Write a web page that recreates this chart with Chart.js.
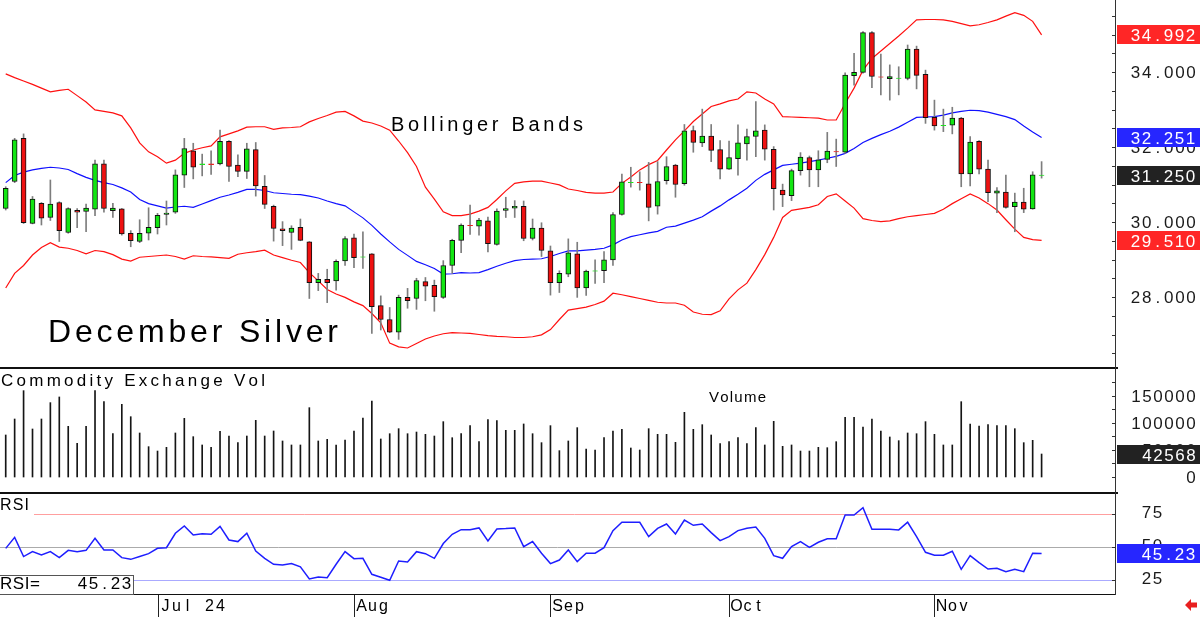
<!DOCTYPE html>
<html>
<head>
<meta charset="utf-8">
<title>December Silver</title>
<script src="https://cdn.jsdelivr.net/npm/chart.js@4.4.1/dist/chart.umd.min.js"></script>
<style>
  html, body { margin: 0; padding: 0; background: #fff; }
  #wrap { position: relative; width: 1200px; height: 617px; }
</style>
</head>
<body>
<div id="wrap"><canvas id="chart" width="1200" height="617"></canvas></div>
<script>
// Daily candles, one per trading day (index 0 = early June, 116 = Nov 19)
const opens = [30.36, 31.08, 32.23, 29.96, 30.50, 30.12, 30.52, 29.72, 30.31, 30.28,
  30.34, 31.55, 30.30, 30.35, 29.70, 29.48, 29.70, 29.85, 30.20, 30.26,
  31.25, 31.90, 31.53, 31.55, 31.55, 32.15, 31.52, 31.35, 31.93, 30.95,
  30.42, 29.82, 29.72, 29.86, 29.47, 28.38, 28.47, 28.43, 28.96, 29.58,
  29.06, 29.15, 27.77, 27.40, 27.06, 27.99, 27.96, 28.41, 28.31, 27.99,
  28.84, 29.51, 29.91, 29.89, 30.03, 29.40, 30.31, 30.37, 30.42, 29.56,
  29.84, 29.23, 28.38, 28.61, 29.15, 28.24, 28.69, 28.70, 28.99, 30.20,
  31.05, 31.06, 31.02, 30.42, 31.10, 31.52, 31.02, 32.44, 32.11, 32.29,
  31.93, 31.41, 31.69, 32.08, 32.28, 32.45, 31.94, 30.85, 30.70, 31.37,
  31.72, 31.39, 31.67, 31.88, 31.86, 33.90, 33.99, 35.05, 33.87, 33.82,
  33.83, 33.83, 34.61, 33.94, 32.79, 32.57, 32.58, 32.77, 31.28, 32.15,
  31.41, 30.77, 30.80, 30.41, 30.53, 30.35, 31.24];
const highs = [30.94, 32.23, 32.35, 30.68, 30.52, 31.12, 30.54, 30.38, 30.36, 30.48,
  31.65, 31.65, 30.50, 30.36, 29.77, 30.06, 30.38, 30.23, 30.56, 31.39,
  32.23, 32.10, 31.81, 31.90, 32.45, 32.17, 31.79, 32.10, 32.12, 31.24,
  30.45, 30.01, 29.90, 30.08, 29.48, 28.63, 28.74, 28.99, 29.61, 29.68,
  29.74, 29.16, 28.03, 27.72, 28.05, 28.23, 28.50, 28.52, 28.45, 28.97,
  29.54, 29.95, 30.45, 30.10, 30.13, 30.35, 30.66, 30.57, 30.56, 30.08,
  29.98, 29.36, 28.70, 29.55, 29.46, 28.72, 28.99, 29.21, 30.25, 31.28,
  31.46, 31.34, 31.59, 31.61, 31.74, 31.54, 32.60, 32.56, 33.01, 32.60,
  32.17, 32.16, 32.59, 32.48, 33.21, 32.59, 32.01, 31.01, 31.41, 31.85,
  31.76, 31.90, 32.39, 32.21, 33.98, 34.50, 35.08, 35.08, 34.48, 34.19,
  34.14, 34.72, 34.69, 34.05, 33.25, 33.01, 33.06, 32.79, 32.28, 32.17,
  31.65, 30.92, 31.25, 30.77, 30.90, 31.34, 31.61];
const lows = [30.32, 31.05, 29.96, 29.95, 29.92, 30.04, 29.48, 29.70, 29.85, 29.74,
  30.17, 30.26, 30.12, 29.65, 29.34, 29.45, 29.52, 29.68, 29.92, 30.23,
  30.92, 31.15, 31.23, 31.27, 31.52, 31.08, 31.21, 31.16, 30.69, 30.36,
  29.49, 29.37, 29.27, 29.50, 27.96, 28.17, 27.85, 28.18, 28.84, 28.78,
  28.76, 27.03, 27.12, 27.05, 26.87, 27.70, 27.67, 27.90, 27.62, 27.96,
  28.63, 29.18, 29.67, 29.65, 29.20, 29.38, 30.12, 30.12, 29.50, 29.52,
  29.08, 28.05, 28.12, 28.54, 27.99, 28.04, 28.36, 28.38, 28.84, 30.18,
  30.93, 30.85, 30.03, 30.21, 31.01, 30.66, 30.98, 31.86, 32.01, 31.61,
  31.15, 31.40, 31.25, 31.65, 31.74, 31.65, 30.32, 30.41, 30.57, 31.25,
  30.94, 30.94, 31.58, 31.48, 31.83, 33.65, 33.97, 33.58, 33.39, 33.25,
  33.39, 33.79, 33.55, 32.63, 32.45, 32.41, 32.35, 30.94, 30.96, 31.28,
  30.54, 30.25, 30.37, 29.74, 30.25, 30.34, 31.17];
const closes = [30.90, 32.19, 29.98, 30.61, 30.10, 30.48, 29.77, 30.36, 30.26, 30.37,
  31.55, 30.36, 30.37, 29.68, 29.50, 29.70, 29.86, 30.18, 30.24, 31.26,
  31.96, 31.46, 31.55, 31.53, 32.15, 31.48, 31.35, 31.95, 30.96, 30.47,
  29.83, 29.77, 29.84, 29.51, 28.38, 28.47, 28.38, 28.95, 29.56, 29.05,
  29.07, 27.74, 27.40, 27.06, 27.99, 27.90, 28.44, 28.29, 28.01, 28.84,
  29.51, 29.92, 29.90, 30.05, 29.42, 30.29, 30.36, 30.42, 29.56, 29.84,
  29.24, 28.38, 28.63, 29.18, 28.24, 28.69, 28.70, 28.99, 30.20, 31.07,
  31.06, 31.05, 30.39, 31.08, 31.48, 31.00, 32.43, 32.12, 32.29, 31.91,
  31.41, 31.72, 32.11, 32.28, 32.43, 31.94, 30.89, 30.72, 31.37, 31.73,
  31.39, 31.66, 31.89, 31.87, 33.92, 33.99, 35.05, 33.88, 33.86, 33.88,
  33.84, 34.61, 33.91, 32.78, 32.56, 32.58, 32.77, 31.28, 32.13, 31.41,
  30.78, 30.83, 30.39, 30.53, 30.34, 31.26, 31.250];

// Bollinger Bands
const upperBand = [33.95, 33.85, 33.76, 33.67, 33.57, 33.47, 33.51, 33.54, 33.37, 33.20,
  32.99, 32.95, 32.91, 32.83, 32.51, 32.11, 31.87, 31.74, 31.57, 31.65,
  31.83, 31.92, 31.98, 32.03, 32.27, 32.35, 32.43, 32.53, 32.54, 32.54,
  32.47, 32.51, 32.52, 32.54, 32.67, 32.76, 32.84, 32.93, 32.95, 32.83,
  32.69, 32.64, 32.56, 32.45, 32.16, 31.85, 31.48, 30.93, 30.61, 30.27,
  30.17, 30.17, 30.21, 30.29, 30.39, 30.60, 30.83, 31.03, 31.07, 31.09,
  31.09, 31.04, 30.99, 30.88, 30.84, 30.79, 30.77, 30.77, 30.80, 31.03,
  31.20, 31.39, 31.53, 31.64, 31.92, 32.19, 32.43, 32.68, 32.88, 33.08,
  33.15, 33.23, 33.28, 33.47, 33.44, 33.28, 33.15, 32.81, 32.80, 32.79,
  32.78, 32.77, 32.72, 32.72, 33.16, 33.57, 34.05, 34.36, 34.56, 34.76,
  34.96, 35.17, 35.39, 35.40, 35.40, 35.39, 35.35, 35.29, 35.23, 35.26,
  35.32, 35.39, 35.49, 35.58, 35.51, 35.35, 34.992];
const middleBand = [31.05, 31.24, 31.33, 31.39, 31.43, 31.46, 31.44, 31.40, 31.29, 31.19,
  31.11, 31.05, 31.00, 30.91, 30.80, 30.60, 30.49, 30.43, 30.37, 30.40,
  30.42, 30.39, 30.48, 30.57, 30.66, 30.72, 30.79, 30.87, 30.87, 30.84,
  30.78, 30.76, 30.74, 30.73, 30.69, 30.64, 30.56, 30.49, 30.43, 30.27,
  30.11, 29.91, 29.68, 29.47, 29.27, 29.11, 28.95, 28.86, 28.76, 28.61,
  28.62, 28.65, 28.64, 28.65, 28.73, 28.82, 28.90, 28.97, 29.00, 29.01,
  29.02, 29.08, 29.16, 29.23, 29.23, 29.25, 29.27, 29.30, 29.39, 29.52,
  29.61, 29.66, 29.71, 29.75, 29.86, 29.89, 29.97, 30.05, 30.14, 30.29,
  30.43, 30.59, 30.74, 30.90, 31.11, 31.27, 31.39, 31.51, 31.54, 31.57,
  31.61, 31.65, 31.70, 31.75, 31.83, 31.96, 32.12, 32.23, 32.33, 32.42,
  32.53, 32.66, 32.79, 32.80, 32.81, 32.85, 32.91, 32.95, 32.98, 32.97,
  32.93, 32.87, 32.81, 32.73, 32.56, 32.40, 32.251];
const lowerBand = [28.24, 28.63, 28.84, 29.12, 29.32, 29.45, 29.33, 29.30, 29.24, 29.15,
  29.24, 29.21, 29.13, 29.01, 28.96, 29.06, 29.08, 29.10, 29.12, 29.08,
  29.01, 29.10, 29.08, 29.07, 29.05, 29.03, 29.14, 29.18, 29.21, 29.25,
  29.12, 29.05, 28.98, 28.92, 28.65, 28.43, 28.20, 28.08, 27.99, 27.87,
  27.77, 27.56, 27.31, 26.77, 26.67, 26.64, 26.76, 26.88, 26.96, 27.02,
  27.05, 27.04, 27.03, 27.00, 26.97, 26.95, 26.94, 26.92, 26.92, 26.94,
  26.99, 27.13, 27.40, 27.65, 27.69, 27.73, 27.80, 27.89, 28.10, 28.06,
  28.01, 27.96, 27.91, 27.86, 27.84, 27.84, 27.78, 27.60, 27.54, 27.53,
  27.63, 27.95, 28.19, 28.37, 28.73, 29.13, 29.59, 30.12, 30.31, 30.35,
  30.39, 30.46, 30.68, 30.75, 30.56, 30.37, 30.09, 30.04, 30.01, 30.03,
  30.09, 30.14, 30.17, 30.20, 30.23, 30.34, 30.49, 30.62, 30.75, 30.64,
  30.49, 30.32, 30.06, 29.81, 29.59, 29.53, 29.510];

const volumes = [77800, 107400, 159900, 88900, 107400, 137700, 148200, 93800, 62300, 93800,
  159900, 139500, 80200, 134600, 111700, 81500, 56200, 48100, 54900, 81500,
  108600, 74700, 59300, 54900, 84600, 75900, 63600, 75900, 104900, 75900,
  85200, 66700, 59300, 59300, 128400, 66700, 69800, 59300, 68500, 85200,
  109300, 140700, 70400, 80200, 89500, 80200, 83300, 79000, 75900, 102500,
  72800, 80200, 95100, 65400, 106200, 104300, 86400, 86400, 98200, 80200,
  63600, 95100, 48800, 66700, 91400, 51900, 50000, 72800, 85200, 88300,
  53700, 50000, 89500, 79000, 79000, 64200, 119800, 88300, 96900, 77800,
  61700, 65400, 72800, 61700, 91400, 59300, 103100, 56800, 59300, 48100,
  48100, 54900, 54300, 65400, 110500, 110500, 92600, 107400, 85200, 74100,
  67300, 81500, 80200, 102500, 79000, 59300, 59300, 139500, 98200, 94400,
  96900, 95100, 95100, 89500, 63600, 67900, 42568];

const rsi = [49.2, 57.5, 43.0, 46.7, 44.2, 46.7, 42.2, 47.7, 46.7, 47.7,
  56.8, 48.0, 48.0, 42.2, 40.9, 43.0, 45.2, 49.2, 49.7, 60.6,
  66.1, 59.3, 60.3, 59.8, 65.8, 55.5, 54.3, 60.6, 47.2, 41.7,
  37.2, 36.7, 37.7, 35.2, 26.1, 27.6, 27.1, 37.2, 46.7, 41.4,
  41.7, 29.6, 27.4, 25.1, 39.7, 38.9, 46.7, 45.2, 41.7, 52.8,
  59.8, 63.3, 63.3, 64.6, 54.8, 63.8, 64.1, 64.6, 50.5, 54.3,
  45.5, 37.7, 40.4, 48.0, 39.2, 45.5, 45.5, 49.7, 62.6, 68.9,
  68.9, 68.9, 58.1, 64.3, 67.6, 60.1, 70.6, 66.6, 67.6, 61.1,
  55.0, 58.1, 62.6, 64.3, 65.3, 56.8, 43.7, 41.7, 50.5, 54.3,
  50.0, 53.8, 56.5, 56.5, 74.4, 74.4, 79.9, 63.6, 63.6, 63.6,
  63.1, 68.9, 58.1, 46.2, 44.0, 44.0, 47.0, 33.4, 43.7, 38.4,
  33.6, 34.2, 31.6, 33.4, 31.6, 45.5, 45.23];

// first trading day of each month (candle index) and its label
const monthStarts = [17, 39, 61, 81, 104];
const monthLabels = ['Jul 24', 'Aug', 'Sep', 'Oct', 'Nov'];
const priceTicks = [28, 30, 32, 34];
const volumeTicks = [0, 50000, 100000, 150000];
const rsiTicks = [25, 50, 75];
const rsiLevels = [75, 50, 25];

const FONT = '"Liberation Sans", Arial, sans-serif';
const GREEN = '#12e612';
const RED = '#ee1111';

const idx = opens.map((_, i) => i);
const pts = arr => arr.map((v, i) => ({ x: i, y: v }));

// text spread to a given width (letters keep their own widths)
function spaced(ctx, text, x, y, width) {
  const chars = [...text];
  const w = chars.map(c => ctx.measureText(c).width);
  const gap = (width - w.reduce((a, b) => a + b, 0)) / (chars.length - 1);
  ctx.textAlign = 'left';
  let cx = x;
  chars.forEach((c, i) => { ctx.fillText(c, cx, y); cx += w[i] + gap; });
}

// fixed pitch text, each glyph centered in its cell
function mono(ctx, text, x, y, pitch) {
  ctx.textAlign = 'center';
  [...text].forEach((c, i) => ctx.fillText(c, x + pitch * (i + 0.5), y));
  ctx.textAlign = 'left';
}

function tag(ctx, y, bg, text, x0) {
  ctx.fillStyle = bg;
  ctx.fillRect(1117, Math.round(y - 9.5), 83, 19);
  ctx.fillStyle = '#fff';
  ctx.font = '17px ' + FONT;
  mono(ctx, text, x0, Math.round(y - 9.5) + 16, 11);
}

const overlay = {
  id: 'overlay',
  beforeDatasetsDraw(chart) {
    const { ctx } = chart;
    const yr = chart.scales.yr;
    const guides = [['#ff9f9f', 34], ['#ababab', 0], ['#aaaaff', 133]];
    ctx.save();
    ctx.lineWidth = 1;
    rsiLevels.forEach((lvl, k) => {
      const y = Math.round(yr.getPixelForValue(lvl)) + 0.5;
      ctx.strokeStyle = guides[k][0];
      ctx.beginPath();
      ctx.moveTo(guides[k][1], y);
      ctx.lineTo(1115, y);
      ctx.stroke();
    });
    ctx.restore();
  },
  afterDatasetsDraw(chart) {
    const { ctx } = chart;
    const { x, yp, yv, yr } = chart.scales;
    const last = closes.length - 1;
    ctx.save();

    // panel borders and right axis line
    ctx.fillStyle = '#111';
    ctx.fillRect(0, 367, 1118, 2);
    ctx.fillRect(0, 492, 1118, 2);
    ctx.fillRect(0, 594, 1116, 1);
    ctx.fillStyle = '#333';
    ctx.fillRect(1115, 0, 1, 595);

    // axis tick marks
    for (let v = 26.5; v <= 35.5; v += 0.5) ctx.fillRect(1112, Math.round(yp.getPixelForValue(v)), 3, 1);
    for (let v = 0; v <= 175000; v += 25000) ctx.fillRect(1112, Math.round(yv.getPixelForValue(v)), 3, 1);
    rsiTicks.forEach(v => ctx.fillRect(1112, Math.round(yr.getPixelForValue(v)), 3, 1));

    // axis labels
    ctx.fillStyle = '#1a1a1a';
    ctx.font = '17px ' + FONT;
    priceTicks.forEach(v => mono(ctx, v.toFixed(3), 1130, yp.getPixelForValue(v) + 6, 11.1));
    volumeTicks.forEach(v => {
      const s = String(v);
      mono(ctx, s, 1196.5 - s.length * 11, yv.getPixelForValue(v) + 6, 11);
    });
    rsiTicks.forEach(v => mono(ctx, String(v), 1141, yr.getPixelForValue(v) + 4, 11));

    // last value tags
    tag(ctx, yp.getPixelForValue(upperBand[last]), '#ff2626', upperBand[last].toFixed(3), 1130);
    tag(ctx, yp.getPixelForValue(middleBand[last]), '#2626ff', middleBand[last].toFixed(3), 1130);
    tag(ctx, yp.getPixelForValue(closes[last]), '#222', closes[last].toFixed(3), 1130);
    tag(ctx, yp.getPixelForValue(lowerBand[last]), '#ff2626', lowerBand[last].toFixed(3), 1130);
    const vs = String(volumes[last]);
    tag(ctx, yv.getPixelForValue(volumes[last]), '#222', vs, 1196.5 - vs.length * 11);
    tag(ctx, yr.getPixelForValue(rsi[last]), '#2626ff', rsi[last].toFixed(2), 1141);

    // titles
    ctx.fillStyle = '#000';
    ctx.font = '32px ' + FONT;
    spaced(ctx, 'December Silver', 48, 342, 290);
    ctx.font = '20px ' + FONT;
    spaced(ctx, 'Bollinger Bands', 391, 131, 192);
    ctx.font = '17px ' + FONT;
    spaced(ctx, 'Commodity Exchange Vol', 1, 386, 264);
    ctx.font = '15px ' + FONT;
    spaced(ctx, 'Volume', 709, 402, 57);
    ctx.font = '16px ' + FONT;
    spaced(ctx, 'RSI', 0, 510, 29);

    // RSI readout box
    ctx.fillStyle = '#fff';
    ctx.fillRect(0, 576, 133, 18);
    ctx.strokeStyle = '#555';
    ctx.lineWidth = 1;
    ctx.strokeRect(-1, 575.5, 134.5, 19);
    ctx.fillStyle = '#000';
    ctx.font = '17px ' + FONT;
    spaced(ctx, 'RSI=', 0, 589, 40);
    mono(ctx, rsi[last].toFixed(2), 77, 589, 11);

    // month axis
    ctx.font = '16px ' + FONT;
    monthStarts.forEach((m, k) => {
      const px = Math.round(x.getPixelForValue(m));
      ctx.fillStyle = '#222';
      ctx.fillRect(px, 595, 1, 22);
      ctx.fillStyle = '#000';
      mono(ctx, monthLabels[k], px + 2, 611, 11);
    });

    // scroll arrow
    ctx.fillStyle = '#e82020';
    ctx.beginPath();
    ctx.moveTo(1185, 605);
    ctx.lineTo(1191, 599);
    ctx.lineTo(1191, 602.5);
    ctx.lineTo(1197, 602.5);
    ctx.lineTo(1197, 607.5);
    ctx.lineTo(1191, 607.5);
    ctx.lineTo(1191, 611);
    ctx.closePath();
    ctx.fill();

    ctx.restore();
  }
};

const isDoji = i => Math.abs(closes[i] - opens[i]) < 0.03;

new Chart(document.getElementById('chart'), {
  type: 'bar',
  data: {
    datasets: [
      {
        type: 'bar',
        label: 'Body',
        data: idx.map(i => ({ x: i, y: [opens[i], closes[i]] })),
        yAxisID: 'yp',
        grouped: false,
        barThickness: 5,
        borderWidth: 1,
        borderSkipped: false,
        backgroundColor: c => closes[c.dataIndex] >= opens[c.dataIndex] ? GREEN : RED,
        borderColor: c => isDoji(c.dataIndex) ? (closes[c.dataIndex] >= opens[c.dataIndex] ? GREEN : RED) : '#111',
        order: 0
      },
      {
        type: 'bar',
        label: 'Wick',
        data: idx.map(i => ({ x: i, y: [lows[i], highs[i]] })),
        yAxisID: 'yp',
        grouped: false,
        barThickness: 1,
        backgroundColor: '#7d7d7d',
        order: 1
      },
      {
        type: 'line', label: 'Upper', data: pts(upperBand), yAxisID: 'yp',
        borderColor: '#ff1010', borderWidth: 1.2, pointRadius: 0, order: 2
      },
      {
        type: 'line', label: 'Middle', data: pts(middleBand), yAxisID: 'yp',
        borderColor: '#1010ff', borderWidth: 1.2, pointRadius: 0, order: 2
      },
      {
        type: 'line', label: 'Lower', data: pts(lowerBand), yAxisID: 'yp',
        borderColor: '#ff1010', borderWidth: 1.2, pointRadius: 0, order: 2
      },
      {
        type: 'bar', label: 'Volume', data: pts(volumes), yAxisID: 'yv',
        grouped: false, barThickness: 1, backgroundColor: '#151515', order: 3
      },
      {
        type: 'line', label: 'RSI', data: pts(rsi), yAxisID: 'yr',
        borderColor: '#1e1eff', borderWidth: 1.5, pointRadius: 0, order: 3
      }
    ]
  },
  options: {
    responsive: false,
    animation: false,
    devicePixelRatio: 1,
    events: [],
    layout: { padding: { left: 0, right: 85, top: 0, bottom: 23 } },
    plugins: { legend: { display: false }, tooltip: { enabled: false } },
    scales: {
      x: { type: 'linear', min: -0.64, max: 124.22, offset: false, display: false },
      yp: { type: 'linear', min: 20.08, max: 35.92, display: false },
      yv: { type: 'linear', min: -216667, max: 883333, display: false },
      yr: { type: 'linear', min: 14.75, max: 463.06, display: false }
    }
  },
  plugins: [overlay]
});
</script>
</body>
</html>
